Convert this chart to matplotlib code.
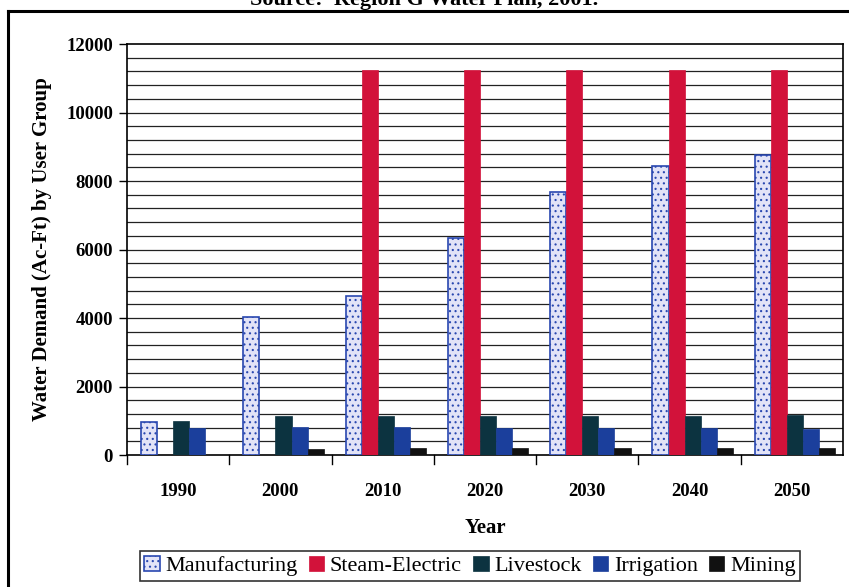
import matplotlib
matplotlib.use("Agg")
import matplotlib.pyplot as plt
from matplotlib.lines import Line2D
import numpy as np

years = ["1990", "2000", "2010", "2020", "2030", "2040", "2050"]
manufacturing = [975, 4040, 4650, 6350, 7670, 8430, 8750]
steam_electric = [0, 0, 11250, 11250, 11250, 11250, 11250]
livestock = [995, 1140, 1140, 1150, 1150, 1150, 1160]
irrigation = [800, 830, 827, 790, 790, 780, 770]
mining = [0, 175, 195, 190, 200, 205, 215]

series_names = ["Manufacturing", "Steam-Electric", "Livestock", "Irrigation", "Mining"]
series_values = [manufacturing, steam_electric, livestock, irrigation, mining]

serif = ["Liberation Serif", "DejaVu Serif"]
plt.rcParams["font.family"] = serif
plt.rcParams["hatch.color"] = "#8fa0e2"
plt.rcParams["hatch.linewidth"] = 0.8

fig = plt.figure(figsize=(8.49, 5.87), dpi=100)
fig.patch.set_facecolor("white")

ax = fig.add_axes([127 / 849, 1 - 455 / 587, (843 - 127) / 849, (455 - 44) / 587])

styles = [
    dict(facecolor="#e2e3f7", edgecolor="#2a48b0", linewidth=1.2, hatch="..."),
    dict(facecolor="#d2123a", edgecolor="#d2123a", linewidth=0.5),
    dict(facecolor="#0c3340", edgecolor="#0c3340", linewidth=0.5),
    dict(facecolor="#1b3f9c", edgecolor="#1b3f9c", linewidth=0.5),
    dict(facecolor="#111111", edgecolor="#111111", linewidth=0.5),
]

x = np.arange(len(years))
bw = 0.157
offsets = (np.arange(5) - 2) * bw + 0.03
handles = []
for vals, off, st in zip(series_values, offsets, styles):
    bars = ax.bar(x + off, vals, width=bw, zorder=3, **st)
    handles.append(bars)

ax.set_xlim(-0.5, len(years) - 0.5)
ax.set_ylim(0, 12000)

# horizontal grid every 400
for yv in np.arange(400, 12000, 400):
    ax.axhline(yv, color="#222222", linewidth=0.9, zorder=1)

ax.set_yticks(np.arange(0, 12001, 2000))
ax.set_yticklabels([str(v) for v in range(0, 12001, 2000)], fontsize=13.5, fontweight="bold")
ax.set_xticks(x)
ax.set_xticklabels(years, fontsize=13.5, fontweight="bold")
ax.tick_params(axis="x", length=0, pad=20)
ax.tick_params(axis="y", length=6, width=1, direction="out", pad=4)
# tick marks between categories
for b in np.arange(-0.5, len(years) - 0.5, 1.0):
    ax.plot([b, b], [0, -250], color="black", linewidth=1, clip_on=False, zorder=4)

for s in ax.spines.values():
    s.set_linewidth(1.2)
    s.set_color("black")

ax.set_xlabel("Year", fontsize=15, fontweight="bold", labelpad=13)
ax.set_ylabel("Water Demand (Ac-Ft) by User Group", fontsize=15, fontweight="bold", labelpad=10)

leg = fig.legend(handles, series_names, loc="center", bbox_to_anchor=(470 / 849, 1 - 566 / 587),
                 ncol=5, fontsize=16, frameon=True, fancybox=False, edgecolor="black",
                 handlelength=0.7, handleheight=0.7, handletextpad=0.25, columnspacing=0.5,
                 borderpad=0.2, borderaxespad=0)
leg.get_frame().set_linewidth(1.2)

# outer frame (left and top edges)
fig.add_artist(Line2D([8 / 849, 8 / 849], [0, 1 - 11 / 587], color="black", linewidth=2.2,
                      transform=fig.transFigure))
fig.add_artist(Line2D([8 / 849, 1], [1 - 11 / 587, 1 - 11 / 587], color="black", linewidth=2.2,
                      transform=fig.transFigure))

fig.text(0.5, 1 - 5 / 587, "Source:  Region G Water Plan, 2001.", ha="center", va="baseline",
         fontsize=16, fontweight="bold")

fig.savefig("out.png", dpi=100)
